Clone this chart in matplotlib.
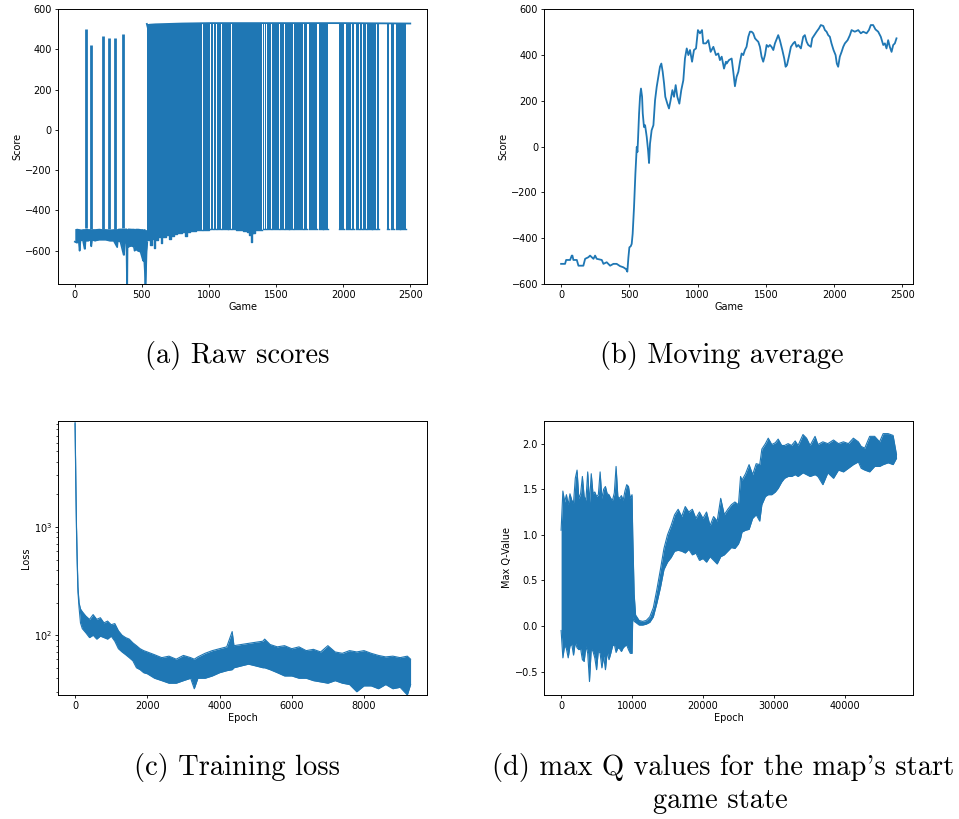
import numpy as np
import matplotlib

matplotlib.use("Agg")
import matplotlib.pyplot as plt  # noqa: E402

BLUE = "#1f77b4"

# ---------------- (a) raw scores ----------------
# early losing phase (games 0-540): band between top and bottom of the loss scores
pre_x = [0, 15, 30, 36, 42, 60, 73, 76, 80, 100, 118, 123, 128, 150, 180, 200, 230, 260,
         290, 316, 320, 340, 364, 367, 372, 385, 389, 391, 393, 400, 420, 440, 446, 450,
         470, 490, 505, 510, 515, 522, 525, 528, 535, 540]
pre_lo = [-555, -560, -555, -600, -550, -545, -590, -590, -550, -550, -545, -578, -545,
          -550, -545, -545, -545, -550, -550, -582, -550, -555, -620, -620, -560, -560,
          -770, -770, -580, -580, -575, -580, -600, -590, -600, -605, -640, -650, -620,
          -700, -770, -770, -600, -560]
pre_hi = [-490, -488, -490, -490, -492, -490, -490, -490, -488, -490, -490, -492, -490,
          -490, -488, -490, -490, -492, -490, -490, -488, -487, -488, -488, -487, -487,
          -490, -490, -487, -487, -488, -488, -490, -488, -488, -490, -490, -492, -490,
          -490, -495, -495, -495, -495]
# isolated wins before game 540
spike_x = [80, 122, 213, 252, 296, 356]
spike_y = [500, 420, 465, 455, 455, 475]

# winning score level (top of the dense band)
win_x = [537, 548, 556, 600, 800, 1000, 1500, 2000, 2500]
win_y = [526, 497, 522, 524, 528, 530, 530, 530, 528]
# losing score level (bottom of the dense band), read as steps
loss_x = [537, 560, 575, 590, 600, 620, 640, 650, 680, 700, 720, 740, 760, 800, 820, 835,
          860, 900, 950, 1000, 1100, 1200, 1250, 1280, 1300, 1316, 1322, 1340, 1400, 2500]
loss_y = [-545, -570, -540, -585, -545, -530, -560, -530, -520, -540, -525, -515, -510,
          -505, -525, -505, -500, -498, -495, -492, -493, -495, -500, -505, -520, -555,
          -510, -495, -492, -492]
band_end = 2466
# stretches of consecutive wins (white gaps in the band)
gap_start = [945, 1008, 1030, 1055, 1088, 1138, 1163, 1326, 1393, 1412, 1428, 1463, 1522,
             1562, 1594, 1627, 1698, 1728, 1805, 1846, 1886, 2008, 2060, 2082, 2120, 2138,
             2168, 2212, 2243, 2269, 2340, 2378, 2420]
gap_end = [952, 1014, 1034, 1060, 1094, 1142, 1170, 1330, 1400, 1418, 1435, 1468, 1530,
           1570, 1600, 1635, 1705, 1745, 1823, 1851, 1966, 2018, 2066, 2092, 2126, 2146,
           2178, 2218, 2249, 2328, 2360, 2396, 2426]

# ---------------- (b) moving average ----------------
avg_x = [0, 20, 29, 37, 66, 78, 83, 90, 115, 127, 163, 176, 200, 212, 237, 249, 261, 298,
         310, 334, 359, 383, 407, 432, 456, 476, 485, 493, 500, 510, 517, 524, 534, 544,
         554, 559, 563, 571, 578, 585, 593, 598, 607, 615, 627, 637, 644, 651, 663, 676,
         688, 700, 712, 724, 734, 744, 754, 763, 778, 790, 802, 815, 827, 839, 851, 866,
         880, 895, 907, 920, 932, 944, 959, 973, 988, 1002, 1017, 1032, 1041, 1061, 1078,
         1095, 1115, 1134, 1151, 1163, 1176, 1193, 1207, 1212, 1229, 1249, 1261, 1273,
         1285, 1298, 1310, 1322, 1334, 1346, 1358, 1371, 1383, 1395, 1407, 1420, 1432,
         1444, 1456, 1468, 1480, 1493, 1505, 1517, 1529, 1541, 1554, 1566, 1590, 1602,
         1620, 1634, 1644, 1654, 1668, 1683, 1700, 1712, 1724, 1737, 1756, 1773, 1785,
         1798, 1810, 1829, 1839, 1854, 1871, 1888, 1902, 1920, 1932, 1944, 1956, 1968,
         1980, 1995, 2010, 2019, 2029, 2041, 2054, 2066, 2078, 2098, 2115, 2127, 2151,
         2176, 2195, 2212, 2237, 2254, 2268, 2285, 2302, 2322, 2341, 2359, 2371, 2383,
         2395, 2407, 2420, 2432, 2444, 2456]
avg_y = [-512, -512, -512, -495, -495, -476, -476, -495, -495, -520, -520, -490, -483,
         -476, -490, -476, -490, -495, -512, -505, -520, -512, -512, -522, -527, -535,
         -546, -483, -440, -435, -425, -381, -265, -119, -2, -24, 27, 144, 217, 253, 217,
         144, 85, 93, 42, -17, -72, 12, 71, 93, 202, 260, 304, 348, 362, 326, 275, 217,
         187, 166, 202, 246, 217, 268, 217, 187, 246, 289, 384, 428, 399, 421, 370, 421,
         428, 508, 494, 508, 450, 450, 464, 413, 435, 399, 406, 377, 392, 340, 370, 362,
         377, 384, 326, 263, 304, 326, 370, 406, 399, 421, 435, 479, 501, 501, 494, 472,
         464, 457, 435, 392, 370, 399, 443, 435, 443, 435, 421, 450, 486, 464, 421, 384,
         348, 355, 392, 435, 450, 457, 435, 443, 428, 479, 486, 457, 443, 435, 472, 486,
         501, 515, 530, 526, 508, 501, 486, 479, 450, 421, 399, 362, 348, 392, 413, 435,
         450, 464, 486, 508, 501, 508, 494, 501, 494, 508, 530, 530, 511, 501, 479, 443,
         450, 428, 464, 435, 413, 443, 450, 472]

# ---------------- (c) training loss ----------------
loss_ep = [0, 20, 40, 60, 80, 110, 150, 200, 300, 400, 500, 600, 700, 800, 900, 1000, 1100,
           1200, 1300, 1400, 1500, 1600, 1700, 1800, 1900, 2000, 2200, 2400, 2600, 2800,
           3000, 3200, 3300, 3400, 3600, 3800, 4000, 4200, 4350, 4400, 4600, 4800, 5000,
           5200, 5250, 5400, 5600, 5800, 6000, 6200, 6400, 6600, 6800, 7000, 7200, 7400,
           7600, 7800, 8000, 8200, 8400, 8600, 8800, 9000, 9200, 9290]
loss_hi = [9500, 2900, 1000, 500, 280, 200, 175, 165, 150, 140, 155, 140, 145, 130, 135,
           125, 128, 110, 100, 95, 92, 85, 80, 75, 72, 70, 66, 62, 64, 60, 65, 62, 60, 63,
           68, 72, 75, 78, 108, 80, 82, 84, 86, 88, 92, 82, 78, 80, 75, 78, 72, 74, 70, 80,
           70, 68, 72, 70, 72, 68, 65, 63, 64, 62, 64, 60]
loss_lo = [9000, 2500, 900, 450, 250, 180, 130, 115, 105, 95, 100, 92, 98, 95, 92, 98, 88,
           75, 70, 66, 62, 58, 50, 48, 45, 44, 40, 38, 36, 36, 38, 40, 32, 40, 40, 42, 45,
           47, 48, 50, 52, 54, 52, 50, 50, 48, 45, 42, 42, 40, 40, 38, 37, 36, 38, 36, 35,
           30, 34, 34, 32, 35, 32, 33, 28, 35]

# ---------------- (d) max Q values ----------------
q_ep = [0, 250, 500, 750, 1000, 1250, 1500, 1750, 2000, 2250, 2500, 2750, 3000, 3250, 3500,
        3750, 4000, 4250, 4500, 4750, 5000, 5250, 5500, 5750, 6000, 6250, 6500, 6750, 7000,
        7250, 7500, 7750, 8000, 8250, 8500, 8750, 9000, 9250, 9500, 9750, 10000, 10100,
        10300, 10500, 11000, 11500, 12000, 12500, 13000, 13500, 14000, 14500, 15000, 15500,
        16000, 16500, 17000, 17500, 18000, 18500, 19000, 19500, 20000, 20500, 21000, 21500,
        22000, 22500, 23000, 23500, 24000, 24500, 25000, 25300, 25500, 26000, 26500, 27000,
        27500, 28000, 28300, 28800, 29200, 29700, 30200, 30600, 31100, 31500, 32000, 32500,
        33000, 33400, 34100, 34600, 35100, 35800, 36200, 36900, 37600, 38400, 39100, 39800,
        40500, 41200, 41900, 42300, 42800, 43500, 44200, 44900, 45400, 46100, 46800, 47280]
q_hi = [1.05, 1.48, 1.36, 1.44, 1.33, 1.45, 1.38, 1.35, 1.62, 1.71, 1.40, 1.45, 1.64, 1.42,
        1.38, 1.69, 1.35, 1.67, 1.45, 1.47, 1.42, 1.44, 1.69, 1.40, 1.50, 1.53, 1.45, 1.44,
        1.40, 1.38, 1.46, 1.75, 1.42, 1.40, 1.43, 1.38, 1.48, 1.55, 1.53, 1.40, 1.44, 1.00,
        0.35, 0.12, 0.06, 0.05, 0.06, 0.10, 0.20, 0.40, 0.62, 0.85, 1.00, 1.10, 1.22, 1.28,
        1.20, 1.31, 1.25, 1.28, 1.18, 1.25, 1.18, 1.25, 1.10, 1.20, 1.15, 1.40, 1.22, 1.28,
        1.33, 1.36, 1.33, 1.64, 1.60, 1.67, 1.77, 1.66, 1.78, 1.77, 1.94, 2.00, 2.06, 1.99,
        2.01, 2.05, 1.98, 1.98, 2.00, 1.98, 2.03, 1.98, 2.10, 2.06, 1.98, 2.08, 1.99, 2.02,
        2.00, 2.04, 2.00, 2.02, 2.00, 2.06, 2.02, 1.97, 1.95, 2.08, 2.08, 2.02, 2.11, 2.11,
        2.09, 1.88]
q_lo = [-0.05, -0.35, -0.21, -0.25, -0.35, -0.22, -0.20, -0.32, -0.18, -0.24, -0.26, -0.25,
        -0.37, -0.39, -0.22, -0.30, -0.61, -0.25, -0.28, -0.35, -0.48, -0.27, -0.30, -0.46,
        -0.33, -0.48, -0.28, -0.37, -0.30, -0.22, -0.20, -0.29, -0.24, -0.25, -0.28, -0.24,
        -0.22, -0.21, -0.26, -0.30, -0.30, 0.10, 0.05, 0.04, 0.01, 0.01, 0.02, 0.04, 0.10,
        0.25, 0.42, 0.62, 0.70, 0.75, 0.82, 0.83, 0.82, 0.80, 0.84, 0.78, 0.80, 0.72, 0.74,
        0.70, 0.76, 0.72, 0.68, 0.76, 0.78, 0.82, 0.86, 0.85, 0.90, 0.96, 1.03, 1.05, 1.06,
        1.18, 1.22, 1.15, 1.33, 1.42, 1.44, 1.44, 1.47, 1.51, 1.58, 1.62, 1.64, 1.64, 1.66,
        1.64, 1.68, 1.66, 1.64, 1.66, 1.64, 1.55, 1.68, 1.62, 1.71, 1.69, 1.73, 1.77, 1.80,
        1.73, 1.71, 1.69, 1.75, 1.75, 1.77, 1.79, 1.77, 1.84]


def step_lookup(xs, ys, q):
    i = np.searchsorted(xs, q, side="right") - 1
    return np.asarray(ys)[np.clip(i, 0, len(ys) - 1)]


def style(ax):
    ax.tick_params(labelsize=7, length=2.5, width=0.6, pad=2)
    ax.tick_params(which="minor", length=1.5, width=0.5)
    for s in ax.spines.values():
        s.set_linewidth(0.7)


fig = plt.figure(figsize=(9.59, 8.19), dpi=100)
ax_a = fig.add_axes([0.0605, 0.6532, 0.3848, 0.3358])
ax_b = fig.add_axes([0.5676, 0.6532, 0.3847, 0.3358])
ax_c = fig.add_axes([0.0608, 0.1514, 0.3848, 0.3349])
ax_d = fig.add_axes([0.5676, 0.1514, 0.3847, 0.3349])

# (a)
ax_a.fill_between(pre_x, pre_lo, pre_hi, color=BLUE, lw=0)
ax_a.plot(pre_x, pre_lo, color=BLUE, lw=1.2)
ax_a.vlines(spike_x, step_lookup(pre_x, pre_hi, spike_x), spike_y, color=BLUE, lw=2)
seg_start = [win_x[0]] + gap_end
seg_end = gap_start + [band_end]
for a, b in zip(seg_start, seg_end):
    xs = np.array([a] + [x for x in loss_x if a < x < b] + [b])
    lo = step_lookup(loss_x, loss_y, xs)
    hi = step_lookup(win_x, win_y, xs)
    ax_a.fill_between(xs, lo, hi, step="post", color=BLUE, lw=0)
    ax_a.plot(xs, lo, drawstyle="steps-post", color=BLUE, lw=1.0)
ax_a.plot(win_x, win_y, color=BLUE, lw=1.3)
ax_a.set_xlim(-125, 2625)
ax_a.set_ylim(-765, 600)
ax_a.set_xlabel("Game", fontsize=7, labelpad=1)
ax_a.set_ylabel("Score", fontsize=7, labelpad=2)
style(ax_a)

# (b)
ax_b.plot(avg_x, avg_y, color=BLUE, lw=1.3)
ax_b.set_xlim(-122.8, 2578.8)
ax_b.set_ylim(-600, 600)
ax_b.set_xlabel("Game", fontsize=7, labelpad=1)
ax_b.set_ylabel("Score", fontsize=7, labelpad=2)
style(ax_b)

# (c)
ax_c.fill_between(loss_ep, loss_lo, loss_hi, color=BLUE, lw=0)
ax_c.plot(loss_ep, loss_hi, color=BLUE, lw=0.8)
ax_c.plot(loss_ep, loss_lo, color=BLUE, lw=0.8)
ax_c.set_yscale("log")
ax_c.set_xlim(-464, 9754)
ax_c.set_ylim(28, 9600)
ax_c.set_xlabel("Epoch", fontsize=7, labelpad=1)
ax_c.set_ylabel("Loss", fontsize=7, labelpad=2)
style(ax_c)

# (d)
ax_d.fill_between(q_ep, q_lo, q_hi, color=BLUE, lw=0)
ax_d.plot(q_ep, q_hi, color=BLUE, lw=0.8)
ax_d.plot(q_ep, q_lo, color=BLUE, lw=0.8)
ax_d.set_xlim(-2364, 49644)
ax_d.set_ylim(-0.7575, 2.2515)
ax_d.set_xlabel("Epoch", fontsize=7, labelpad=1)
ax_d.set_ylabel("Max Q-Value", fontsize=7, labelpad=2)
style(ax_d)

cap = dict(family=["cmr10", "DejaVu Serif"], fontsize=20.5, ha="center", va="center")
fig.text(237 / 959, 1 - 355 / 819, "(a) Raw scores", **cap)
fig.text(722 / 959, 1 - 355 / 819, "(b) Moving average", **cap)
fig.text(237 / 959, 1 - 768 / 819, "(c) Training loss", **cap)
fig.text(723 / 959, 1 - 768 / 819, "(d) max Q values for the map's start", **cap)
fig.text(720 / 959, 1 - 801 / 819, "game state", **cap)

fig.savefig("out.png", dpi=100)
